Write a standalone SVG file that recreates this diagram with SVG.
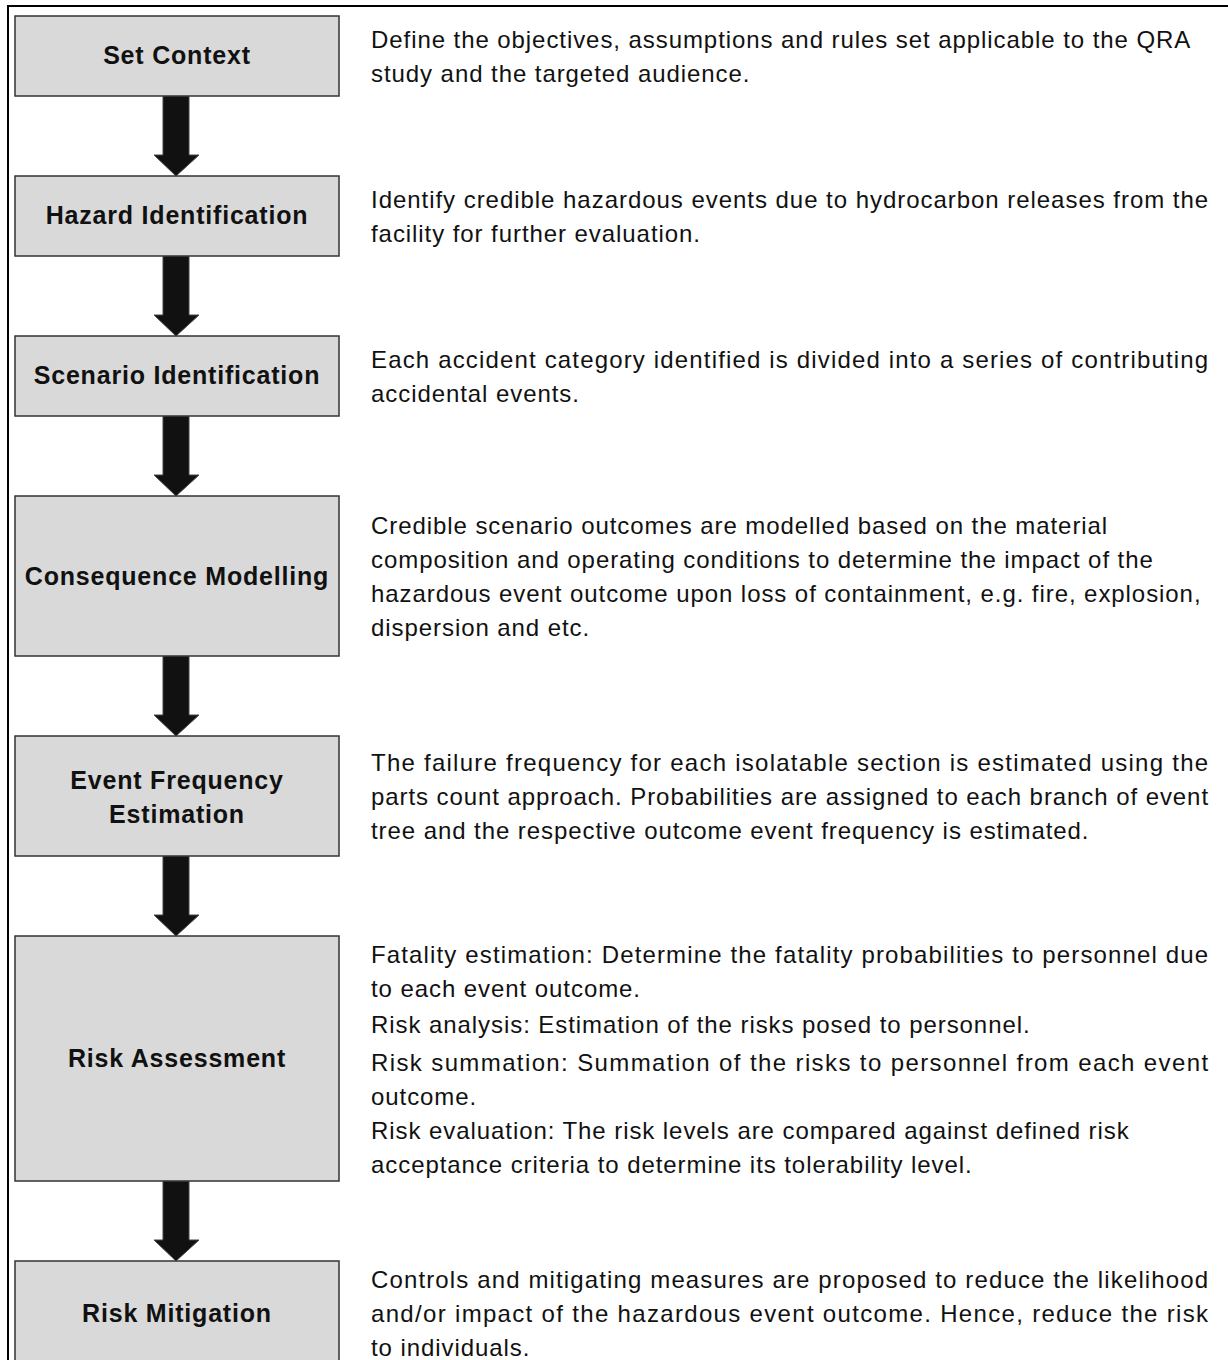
<svg xmlns="http://www.w3.org/2000/svg" width="1228" height="1360" viewBox="0 0 1228 1360">
<style>
.box{fill:#d9d9d9;stroke:#333;stroke-width:1.5}
.lbl{font-family:"Liberation Sans",Arial,sans-serif;font-weight:bold;font-size:25px;letter-spacing:0.8px;fill:#111;text-anchor:middle}
.desc{font-family:"Liberation Sans",Arial,sans-serif;font-size:24px;letter-spacing:0.93px;fill:#111}
.arr{fill:#111;stroke:#444;stroke-width:1}
</style>
<rect x="0" y="0" width="1228" height="1360" fill="#fff"/>
<rect x="8" y="6" width="1240" height="1380" fill="none" stroke="#000" stroke-width="2"/>
<g id="connectors">
<polygon class="arr" points="163,96 189,96 189,155 199,155 176,176 154,155 163,155"/>
<polygon class="arr" points="163,256 189,256 189,315 199,315 176,336 154,315 163,315"/>
<polygon class="arr" points="163,416 189,416 189,475 199,475 176,496 154,475 163,475"/>
<polygon class="arr" points="163,656 189,656 189,715 199,715 176,736 154,715 163,715"/>
<polygon class="arr" points="163,856 189,856 189,915 199,915 176,936 154,915 163,915"/>
<polygon class="arr" points="163,1181 189,1181 189,1240 199,1240 176,1261 154,1240 163,1240"/>
</g>
<g id="set-context">
<rect class="box" x="15" y="16" width="324" height="80"/>
<text class="lbl" x="177" y="64">Set Context</text>
<text class="desc" x="371" y="48">Define the objectives, assumptions and rules set applicable to the QRA</text>
<text class="desc" x="371" y="82">study and the targeted audience.</text>
</g>
<g id="hazard-identification">
<rect class="box" x="15" y="176" width="324" height="80"/>
<text class="lbl" x="177" y="224">Hazard Identification</text>
<text class="desc" x="371" y="208" textLength="838" lengthAdjust="spacing">Identify credible hazardous events due to hydrocarbon releases from the</text>
<text class="desc" x="371" y="242">facility for further evaluation.</text>
</g>
<g id="scenario-identification">
<rect class="box" x="15" y="336" width="324" height="80"/>
<text class="lbl" x="177" y="384">Scenario Identification</text>
<text class="desc" x="371" y="368" textLength="838" lengthAdjust="spacing">Each accident category identified is divided into a series of contributing</text>
<text class="desc" x="371" y="402">accidental events.</text>
</g>
<g id="consequence-modelling">
<rect class="box" x="15" y="496" width="324" height="160"/>
<text class="lbl" x="177" y="585">Consequence Modelling</text>
<text class="desc" x="371" y="534">Credible scenario outcomes are modelled based on the material</text>
<text class="desc" x="371" y="568">composition and operating conditions to determine the impact of the</text>
<text class="desc" x="371" y="602">hazardous event outcome upon loss of containment, e.g. fire, explosion,</text>
<text class="desc" x="371" y="636">dispersion and etc.</text>
</g>
<g id="event-frequency-estimation">
<rect class="box" x="15" y="736" width="324" height="120"/>
<text class="lbl" x="177" y="789">Event Frequency</text>
<text class="lbl" x="177" y="823">Estimation</text>
<text class="desc" x="371" y="771" textLength="838" lengthAdjust="spacing">The failure frequency for each isolatable section is estimated using the</text>
<text class="desc" x="371" y="805" textLength="838" lengthAdjust="spacing">parts count approach. Probabilities are assigned to each branch of event</text>
<text class="desc" x="371" y="839">tree and the respective outcome event frequency is estimated.</text>
</g>
<g id="risk-assessment">
<rect class="box" x="15" y="936" width="324" height="245"/>
<text class="lbl" x="177" y="1067">Risk Assessment</text>
<text class="desc" x="371" y="963" textLength="838" lengthAdjust="spacing">Fatality estimation: Determine the fatality probabilities to personnel due</text>
<text class="desc" x="371" y="997">to each event outcome.</text>
<text class="desc" x="371" y="1033">Risk analysis: Estimation of the risks posed to personnel.</text>
<text class="desc" x="371" y="1071" textLength="838" lengthAdjust="spacing">Risk summation: Summation of the risks to personnel from each event</text>
<text class="desc" x="371" y="1105">outcome.</text>
<text class="desc" x="371" y="1139">Risk evaluation: The risk levels are compared against defined risk</text>
<text class="desc" x="371" y="1173">acceptance criteria to determine its tolerability level.</text>
</g>
<g id="risk-mitigation">
<rect class="box" x="15" y="1261" width="324" height="130"/>
<text class="lbl" x="177" y="1322">Risk Mitigation</text>
<text class="desc" x="371" y="1288" textLength="838" lengthAdjust="spacing">Controls and mitigating measures are proposed to reduce the likelihood</text>
<text class="desc" x="371" y="1322" textLength="838" lengthAdjust="spacing">and/or impact of the hazardous event outcome. Hence, reduce the risk</text>
<text class="desc" x="371" y="1356">to individuals.</text>
</g>
</svg>
